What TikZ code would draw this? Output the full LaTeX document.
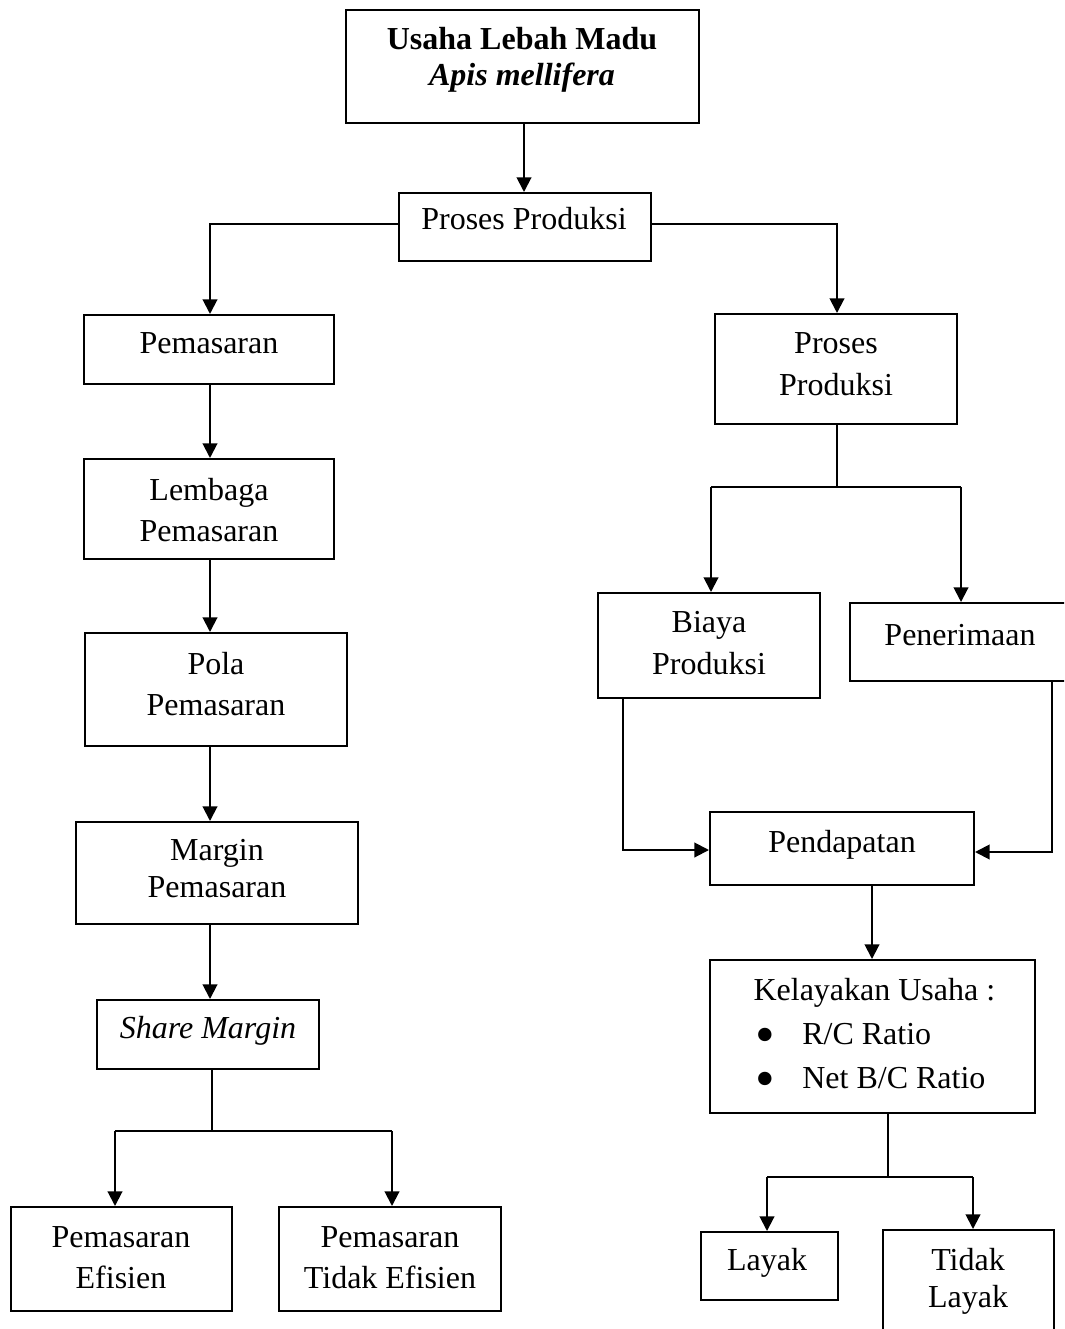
\documentclass[tikz,border=0pt]{standalone}
\usepackage{fontspec}
\usepackage{graphicx}
\setmainfont{Liberation Serif}
\usetikzlibrary{arrows.meta,fit,calc}
\newcommand\txtlines[2]{\fontsize{12pt}{#1}\selectfont\begin{tabular}[t]{@{}c@{}}#2\end{tabular}}
\newcommand\bigbul{\makebox[17.5pt][l]{\raisebox{-3.6pt}[0pt][0pt]{\scalebox{1.75}{•}}}}
\tikzset{
  box/.style={draw, line width=0.75pt, inner sep=0pt},
  txt/.style={anchor=base, inner sep=0pt, font=\fontsize{12pt}{15pt}\selectfont},
  conn/.style={line width=0.75pt},
  arr/.style={line width=0.75pt, -{Triangle[length=5.5pt,width=5.5pt]}},
}
\begin{document}
\begin{tikzpicture}[x=0.375pt,y=-0.375pt]
\useasboundingbox (0,0) rectangle (1064,1329);
\fill[white] (0,0) rectangle (1064,1329);
\clip (0,0) rectangle (1064,1329);

% boxes
\node[box, fit={(346,10)(699,123)}] (top) {};
\node[box, fit={(399,193)(651,261)}] (pp1) {};
\node[box, fit={(84,315)(334,384)}] (pem) {};
\node[box, fit={(84,459)(334,559)}] (lem) {};
\node[box, fit={(85,633)(347,746)}] (pola) {};
\node[box, fit={(76,822)(358,924)}] (margin) {};
\node[box, fit={(97,1000)(319,1069)}] (share) {};
\node[box, fit={(11,1207)(232,1311)}] (eff) {};
\node[box, fit={(279,1207)(501,1311)}] (teff) {};
\node[box, fit={(715,314)(957,424)}] (pp2) {};
\node[box, fit={(598,593)(820,698)}] (biaya) {};
\node[box, fit={(850,603)(1072,681)}] (pener) {};
\node[box, fit={(710,812)(974,885)}] (pend) {};
\node[box, fit={(710,960)(1035,1113)}] (kel) {};
\node[box, fit={(701,1232)(838,1300)}] (layak) {};
\node[box, fit={(883,1230)(1054,1342)}] (tlayak) {};

% texts
\node[txt] (ttop) at (522,50) {\txtlines{13.5pt}{\textbf{Usaha Lebah Madu}\\\textbf{\textit{Apis mellifera}}}};
\node[txt] (tpp1) at (524,230) {Proses Produksi};
\node[txt] (tpem) at (209,354) {Pemasaran};
\node[txt] (tlem) at (209,500) {\txtlines{15.4pt}{Lembaga\\Pemasaran}};
\node[txt] (tpola) at (216,674) {\txtlines{15.4pt}{Pola\\Pemasaran}};
\node[txt] (tmargin) at (217,860) {\txtlines{13.9pt}{Margin\\Pemasaran}};
\node[txt] (tshare) at (208,1038) {\textit{Share Margin}};
\node[txt] (teffx) at (121,1247) {\txtlines{15.4pt}{Pemasaran\\Efisien}};
\node[txt] (tteffx) at (390,1247) {\txtlines{15.4pt}{Pemasaran\\Tidak Efisien}};
\node[txt] (tpp2) at (836,354) {\txtlines{15.75pt}{Proses\\Produksi}};
\node[txt] (tbiaya) at (709,632) {\txtlines{15.75pt}{Biaya\\Produksi}};
\node[txt] (tpener) at (960,645) {Penerimaan};
\node[txt] (tpend) at (842,852) {Pendapatan};
\node[txt, anchor=base west] (tkel) at (753,1000) {\fontsize{12pt}{16.5pt}\selectfont\begin{tabular}[t]{@{}l@{}}Kelayakan Usaha :\\\hspace*{0.8pt}\bigbul R/C Ratio\\\hspace*{0.8pt}\bigbul Net B/C Ratio\end{tabular}};
\node[txt] (tlayak1) at (767,1270) {Layak};
\node[txt] (ttlayak) at (968,1270) {\txtlines{13.9pt}{Tidak\\Layak}};

% junction coordinates
\coordinate (jL1) at (210,224);
\coordinate (jR1) at (837,224);
\coordinate (jS) at (212,1131);
\coordinate (jSL) at (115,1131);
\coordinate (jSR) at (392,1131);
\coordinate (jP) at (837,487);
\coordinate (jPL) at (711,487);
\coordinate (jPR) at (961,487);
\coordinate (jB) at (623,850);
\coordinate (jN) at (1052,852);
\coordinate (jK) at (888,1177);
\coordinate (jKL) at (767,1177);
\coordinate (jKR) at (973,1177);

% connectors
\draw[arr] (top.south -| 524,0) -- (pp1.north -| 524,0);
\draw[arr] (pp1.west |- jL1) -- (jL1) -- (jL1 |- pem.north);
\draw[arr] (pp1.east |- jR1) -- (jR1) -- (jR1 |- pp2.north);
\draw[arr] (pem.south -| jL1) -- (lem.north -| jL1);
\draw[arr] (lem.south -| jL1) -- (pola.north -| jL1);
\draw[arr] (pola.south -| jL1) -- (margin.north -| jL1);
\draw[arr] (margin.south -| jL1) -- (share.north -| jL1);
\draw[conn] (share.south -| jS) -- (jS);
\draw[conn] (jSL) -- (jSR);
\draw[arr] (jSL) -- (jSL |- eff.north);
\draw[arr] (jSR) -- (jSR |- teff.north);
\draw[conn] (pp2.south -| jP) -- (jP);
\draw[conn] (jPL) -- (jPR);
\draw[arr] (jPL) -- (jPL |- biaya.north);
\draw[arr] (jPR) -- (jPR |- pener.north);
\draw[arr] (biaya.south -| jB) -- (jB) -- (pend.west |- jB);
\draw[arr] (pener.south -| jN) -- (jN) -- (pend.east |- jN);
\draw[arr] (pend.south -| 872,0) -- (kel.north -| 872,0);
\draw[conn] (kel.south -| jK) -- (jK);
\draw[conn] (jKL) -- (jKR);
\draw[arr] (jKL) -- (jKL |- layak.north);
\draw[arr] (jKR) -- (jKR |- tlayak.north);
\end{tikzpicture}
\end{document}
